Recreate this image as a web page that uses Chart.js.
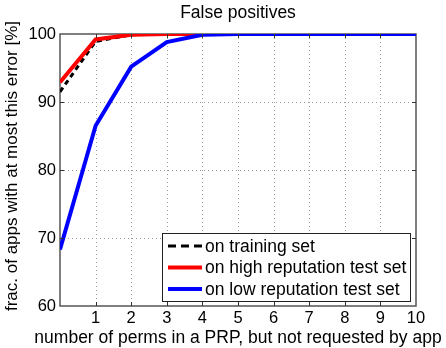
<!DOCTYPE html>
<html lang="en">
<head>
    <meta charset="UTF-8">
    <title>False positives</title>
    <script src="https://cdn.jsdelivr.net/npm/chart.js@4.4.0/dist/chart.umd.min.js"></script>
    <style>
        body {
            margin: 0;
            padding: 0;
            background: white;
        }
        #wrap {
            width: 446px;
            height: 348px;
            position: relative;
        }
    </style>
</head>
<body>
    <div id="wrap">
        <canvas id="fpChart" width="446" height="348"></canvas>
    </div>
    <script>
        // values
        const perms = [0, 1, 2, 3, 4, 5, 6, 7, 8, 9, 10];
        const trainingSet = [91.5, 98.9, 99.9, 100, 100, 100, 100, 100, 100, 100, 100];
        const highRepSet = [92.9, 99.2, 99.9, 100, 100, 100, 100, 100, 100, 100, 100];
        const lowRepSet = [68.3, 86.5, 95.2, 98.8, 99.9, 100, 100, 100, 100, 100, 100];
        const legendLabels = ['on training set', 'on high reputation test set', 'on low reputation test set'];
        const xTitle = 'number of perms in a PRP, but not requested by app';
        const yTitle = 'frac. of apps with at most this error [%]';

        const FONT = "'Liberation Sans', Arial, sans-serif";
        const AXIS_COLOR = '#555';

        function toPoints(vals) {
            return perms.map((p, i) => ({ x: p, y: vals[i] }));
        }

        // dotted grid + frame, under the lines
        const gridFrame = {
            id: 'gridFrame',
            beforeDatasetsDraw(chart) {
                const c = chart.ctx, a = chart.chartArea;
                const xs = chart.scales.x, ys = chart.scales.y;
                c.save();
                c.strokeStyle = '#999';
                c.lineWidth = 1;
                c.setLineDash([1, 3]);
                c.beginPath();
                for (let v = 1; v < 10; v++) {
                    const px = Math.round(xs.getPixelForValue(v)) + 0.5;
                    c.moveTo(px, a.top); c.lineTo(px, a.bottom);
                }
                for (let v = 70; v < 100; v += 10) {
                    const py = Math.round(ys.getPixelForValue(v)) + 0.5;
                    c.moveTo(a.left, py); c.lineTo(a.right, py);
                }
                c.stroke();
                c.setLineDash([]);
                c.strokeStyle = AXIS_COLOR;
                c.lineWidth = 1.5;
                c.strokeRect(a.left, a.top, a.right - a.left, a.bottom - a.top);
                c.restore();
            }
        };

        // inward ticks, axis titles and the boxed legend
        const extras = {
            id: 'extras',
            afterDraw(chart) {
                const ctx = chart.ctx;
                const a = chart.chartArea;
                const xs = chart.scales.x, ys = chart.scales.y;
                ctx.save();
                ctx.strokeStyle = '#333';
                ctx.lineWidth = 1;
                ctx.beginPath();
                for (let v = 1; v < 10; v++) {
                    const px = Math.round(xs.getPixelForValue(v)) + 0.5;
                    ctx.moveTo(px, a.bottom); ctx.lineTo(px, a.bottom - 4);
                    ctx.moveTo(px, a.top); ctx.lineTo(px, a.top + 4);
                }
                for (let v = 70; v < 100; v += 10) {
                    const py = Math.round(ys.getPixelForValue(v)) + 0.5;
                    ctx.moveTo(a.left, py); ctx.lineTo(a.left + 4, py);
                    ctx.moveTo(a.right, py); ctx.lineTo(a.right - 4, py);
                }
                ctx.stroke();

                ctx.fillStyle = '#000';
                ctx.font = '17.5px ' + FONT;
                ctx.textAlign = 'center';
                ctx.textBaseline = 'middle';
                ctx.fillText(xTitle, (a.left + a.right) / 2, 338);

                ctx.save();
                ctx.font = '17px ' + FONT;
                ctx.translate(12, 166);
                ctx.rotate(-Math.PI / 2);
                ctx.fillText(yTitle, 0, 0);
                ctx.restore();

                // legend
                const lx = 162, ly = 233, lw = 248, lh = 68;
                ctx.fillStyle = '#fff';
                ctx.fillRect(lx, ly, lw, lh);
                ctx.strokeStyle = '#222';
                ctx.lineWidth = 1;
                ctx.strokeRect(lx + 0.5, ly + 0.5, lw, lh);
                const ds = chart.data.datasets;
                legendLabels.forEach((lab, i) => {
                    const y = ly + 13 + i * 21.5;
                    ctx.beginPath();
                    ctx.strokeStyle = ds[i].borderColor;
                    ctx.lineWidth = ds[i].borderWidth;
                    ctx.setLineDash(ds[i].borderDash ? [8, 5] : []);
                    ctx.moveTo(168, y);
                    ctx.lineTo(202, y);
                    ctx.stroke();
                    ctx.setLineDash([]);
                    ctx.fillStyle = '#000';
                    ctx.textAlign = 'left';
                    ctx.fillText(lab, 205, y + 1);
                });
                ctx.restore();
            }
        };

        const ctx = document.getElementById('fpChart').getContext('2d');
        const fpChart = new Chart(ctx, {
            type: 'line',
            data: {
                datasets: [{
                    label: legendLabels[0],
                    data: toPoints(trainingSet),
                    borderColor: '#000',
                    borderWidth: 3,
                    borderDash: [5, 4],
                    order: 2
                }, {
                    label: legendLabels[1],
                    data: toPoints(highRepSet),
                    borderColor: '#ff0000',
                    borderWidth: 4,
                    order: 1
                }, {
                    label: legendLabels[2],
                    data: toPoints(lowRepSet),
                    borderColor: '#0000ff',
                    borderWidth: 4,
                    order: 0
                }]
            },
            options: {
                responsive: false,
                animation: false,
                clip: 0,
                elements: {
                    point: { radius: 0 },
                    line: { tension: 0, borderCapStyle: 'butt' }
                },
                layout: { padding: { left: 0, right: 30, top: 0, bottom: 0 } },
                plugins: {
                    legend: { display: false },
                    tooltip: { enabled: false },
                    title: {
                        display: true,
                        text: 'False positives',
                        fullSize: false,
                        color: '#000',
                        font: { family: FONT, size: 17.5, weight: 'normal' },
                        padding: { top: 3, bottom: 10 }
                    }
                },
                scales: {
                    x: {
                        type: 'linear',
                        min: 0,
                        max: 10,
                        afterFit(s) { s.height = 42; },
                        ticks: {
                            stepSize: 1,
                            color: '#000',
                            padding: 3,
                            font: { family: FONT, size: 16.5 },
                            callback: v => v === 0 ? '' : v
                        },
                        grid: { display: false, drawTicks: false, tickLength: 0 },
                        border: { display: false }
                    },
                    y: {
                        min: 60,
                        max: 100,
                        afterFit(s) { s.width = 60; },
                        ticks: {
                            stepSize: 10,
                            color: '#000',
                            padding: 4,
                            font: { family: FONT, size: 16.5 }
                        },
                        grid: { display: false, drawTicks: false, tickLength: 0 },
                        border: { display: false }
                    }
                }
            },
            plugins: [gridFrame, extras]
        });
    </script>
</body>
</html>
